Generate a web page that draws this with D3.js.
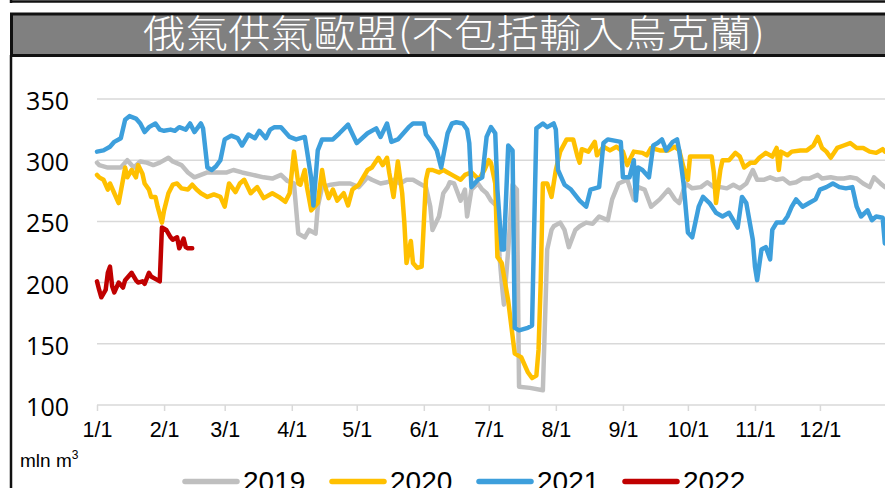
<!DOCTYPE html>
<html>
<head>
<meta charset="utf-8">
<script src="https://cdn.jsdelivr.net/npm/d3@7"></script>
<style>
  html, body { margin: 0; padding: 0; background: #fff; overflow: hidden; }
  svg { display: block; }
</style>
</head>
<body>
<div id="chart"></div>
<script>
const w = 885;
const h = 488;

const title = "俄氣供氣歐盟(不包括輸入烏克蘭)";
const unitLabel = "mln m";

// x axis: day of year at the start of each month
const monthStarts = [0, 31, 59, 90, 120, 151, 181, 212, 243, 273, 304, 334];
const monthLabels = ["1/1", "2/1", "3/1", "4/1", "5/1", "6/1", "7/1", "8/1", "9/1", "10/1", "11/1", "12/1"];
const yTicks = [100, 150, 200, 250, 300, 350];

// [day of year, mln m3]
const s2019 = [[0,298],[1,296],[5,294],[7,294],[11,294],[14,300],[17,294],[20,299],[23,298],[26,296],[29,298],[33,302],[35,299],[39,296],[42,290],[45,286],[48,288],[51,290],[55,290],[60,290],[63,292],[67,290],[72,288],[77,286],[81,285],[85,288],[88,283],[91,281],[93,240],[96,237],[98,243],[101,240],[102,262],[104,278],[108,280],[112,281],[117,281],[121,278],[125,286],[127,284],[131,281],[134,282],[137,284],[140,281],[143,284],[146,284],[149,281],[152,278],[154,262],[155,243],[158,254],[160,273],[162,278],[163,282],[165,281],[168,267],[170,276],[171,254],[173,276],[176,281],[178,276],[180,273],[182,267],[185,262],[186,221],[187,200],[188,182],[190,227],[192,280],[194,276],[195,115],[200,114],[206,112],[208,227],[210,243],[211,246],[214,249],[216,243],[218,229],[221,243],[223,246],[226,249],[229,248],[232,254],[236,251],[238,268],[241,281],[245,284],[248,268],[250,278],[253,276],[256,262],[260,268],[264,276],[267,268],[269,265],[272,281],[275,277],[279,278],[282,282],[285,278],[288,278],[291,277],[294,280],[297,277],[300,281],[303,292],[305,284],[308,284],[311,286],[314,284],[317,285],[320,281],[323,282],[326,285],[329,285],[333,288],[335,285],[339,286],[342,285],[345,285],[348,286],[351,285],[354,281],[357,278],[359,286],[362,281],[364,278]];

const s2020 = [[0,288],[1,286],[3,284],[5,276],[6,281],[8,273],[10,265],[12,284],[13,294],[14,286],[16,292],[18,286],[19,296],[21,289],[22,281],[24,276],[25,270],[27,270],[28,262],[30,249],[31,259],[33,273],[35,280],[37,281],[39,277],[42,276],[44,280],[46,276],[48,273],[51,270],[54,272],[57,270],[59,262],[61,281],[64,274],[66,281],[68,284],[71,273],[74,278],[77,269],[81,273],[84,270],[87,266],[89,273],[91,307],[93,281],[94,280],[96,292],[97,278],[99,259],[102,265],[104,292],[105,281],[107,269],[109,276],[111,267],[114,273],[116,263],[118,276],[121,280],[125,292],[127,294],[130,302],[132,296],[134,302],[135,290],[137,270],[139,299],[141,273],[142,249],[143,216],[145,234],[146,216],[148,212],[150,213],[152,284],[153,292],[155,292],[158,290],[160,292],[162,290],[164,288],[168,284],[170,288],[173,290],[176,285],[177,286],[179,292],[181,300],[182,298],[184,281],[185,221],[187,216],[190,185],[193,142],[196,139],[199,127],[201,122],[203,124],[204,145],[205,200],[206,281],[208,281],[210,270],[212,292],[214,307],[217,317],[220,317],[222,303],[223,298],[224,309],[227,307],[230,315],[231,304],[234,311],[237,308],[240,311],[243,307],[245,296],[248,307],[252,306],[254,304],[256,310],[260,308],[264,308],[267,311],[269,308],[271,294],[273,284],[274,303],[277,303],[281,303],[284,303],[285,290],[286,265],[288,292],[289,300],[292,300],[295,306],[297,303],[299,294],[302,298],[304,298],[306,302],[309,306],[312,303],[314,310],[315,292],[316,307],[319,304],[321,307],[325,308],[328,308],[331,312],[333,319],[335,310],[337,307],[339,302],[342,310],[345,312],[348,314],[351,310],[354,310],[357,307],[360,306],[363,309],[364,307]];

const s2021 = [[0,307],[3,308],[6,311],[8,315],[11,318],[13,333],[15,336],[18,334],[20,330],[22,323],[24,327],[27,330],[29,325],[31,324],[34,325],[36,324],[38,327],[41,325],[43,330],[45,323],[48,330],[49,326],[51,294],[53,292],[55,295],[57,300],[59,317],[62,320],[65,318],[67,312],[70,321],[73,318],[75,324],[78,318],[80,325],[82,327],[85,327],[89,319],[92,317],[96,319],[97,308],[99,285],[100,263],[102,308],[104,317],[109,317],[112,322],[116,329],[120,314],[125,322],[129,326],[131,319],[134,330],[136,315],[139,317],[144,327],[146,330],[151,330],[152,321],[155,314],[157,308],[159,294],[162,322],[164,330],[166,331],[169,330],[171,325],[172,314],[173,278],[176,284],[178,286],[180,319],[182,327],[184,322],[185,276],[187,227],[188,227],[190,312],[192,308],[193,163],[195,161],[199,163],[201,165],[203,326],[206,330],[208,327],[211,330],[212,325],[213,292],[216,280],[219,276],[223,267],[226,262],[228,276],[232,278],[234,314],[236,317],[242,315],[243,286],[246,286],[248,300],[249,267],[250,294],[252,292],[255,286],[257,312],[259,314],[261,317],[263,308],[266,315],[268,317],[269,308],[271,281],[273,241],[275,237],[278,262],[280,270],[283,265],[286,257],[289,254],[292,257],[296,245],[298,270],[300,265],[303,235],[304,213],[305,202],[307,227],[309,229],[311,219],[312,243],[314,249],[317,249],[319,254],[321,262],[323,268],[326,262],[329,265],[332,268],[334,276],[337,278],[340,281],[343,278],[346,277],[349,278],[351,262],[353,254],[356,259],[358,251],[360,254],[363,253],[364,232]];

const s2022 = [[0,201],[1,194],[2,188],[4,194],[5,208],[6,213],[7,197],[8,192],[10,200],[12,196],[13,202],[14,204],[16,208],[18,202],[19,200],[21,201],[22,199],[24,208],[25,205],[28,202],[29,201],[30,245],[32,243],[34,237],[35,235],[37,237],[38,228],[40,236],[41,229],[42,228],[44,228]];

const seriesNames = ["2019", "2020", "2021", "2022"];
const seriesData = [s2019, s2020, s2021, s2022];
const seriesColors = ["#bfbfbf", "#ffc000", "#3d9fdc", "#c00000"];

const svg = d3.select("#chart").append("svg")
    .attr("width", w)
    .attr("height", h);

// frame pieces
svg.append("line")
    .attr("x1", 10).attr("x2", w).attr("y1", 1.5).attr("y2", 1.5)
    .attr("stroke", "#111").attr("stroke-width", 2.5);
svg.append("line")
    .attr("x1", 11).attr("x2", 11).attr("y1", 0).attr("y2", 3)
    .attr("stroke", "#111").attr("stroke-width", 2.5);

svg.append("rect")
    .attr("x", 11.5).attr("y", 14)
    .attr("width", w + 10).attr("height", 41.5)
    .attr("fill", "#808080")
    .attr("stroke", "#111")
    .attr("stroke-width", 3);

svg.append("line")
    .attr("x1", 11).attr("x2", 11).attr("y1", 55).attr("y2", h)
    .attr("stroke", "#111").attr("stroke-width", 2.5);

svg.append("text")
    .attr("x", 143).attr("y", 47)
    .attr("textLength", 622)
    .attr("lengthAdjust", "spacingAndGlyphs")
    .style("font-family", "'Noto Sans CJK TC', sans-serif")
    .style("font-size", "38px")
    .style("font-weight", 300)
    .style("fill", "#fff")
    .text(title);

const xScale = d3.scaleLinear()
    .domain([0, 365])
    .range([97, 887]);

const yScale = d3.scaleLinear()
    .domain([100, 350])
    .range([405, 99]);

// gridlines
svg.append("g")
    .selectAll("line")
    .data(yTicks)
    .enter()
    .append("line")
    .attr("x1", 97).attr("x2", w)
    .attr("y1", d => yScale(d)).attr("y2", d => yScale(d))
    .attr("stroke", "#d9d9d9")
    .attr("stroke-width", 1.5);

// y labels
svg.append("g")
    .selectAll("text")
    .data(yTicks)
    .enter()
    .append("text")
    .attr("x", 69)
    .attr("y", d => yScale(d) + 11)
    .attr("text-anchor", "end")
    .style("font-family", "'Open Sans', sans-serif")
    .style("font-size", "25px")
    .style("fill", "#000")
    .text(d => d);

// x axis with month ticks
const xAxis = d3.axisBottom(xScale)
    .tickValues(monthStarts)
    .tickFormat((d, i) => monthLabels[i])
    .tickSizeInner(6)
    .tickSizeOuter(0)
    .tickPadding(11);

const gx = svg.append("g")
    .attr("transform", `translate(0, ${yScale(100)})`)
    .call(xAxis);
gx.select(".domain").remove();
gx.selectAll(".tick line")
    .attr("stroke", "#d9d9d9")
    .attr("stroke-width", 1.5);
gx.selectAll(".tick text")
    .style("font-family", "'Liberation Sans', Arial, sans-serif")
    .style("font-size", "21.5px")
    .style("fill", "#000");

svg.append("text")
    .attr("x", 20).attr("y", 467)
    .style("font-family", "'Liberation Sans', Arial, sans-serif")
    .style("font-size", "19px")
    .style("fill", "#000")
    .text(unitLabel)
    .append("tspan")
    .attr("dy", -8)
    .style("font-size", "12px")
    .text("3");

// series
const line = d3.line()
    .x(d => xScale(d[0]))
    .y(d => yScale(d[1]));

svg.append("g")
    .selectAll("path")
    .data(seriesData)
    .enter()
    .append("path")
    .attr("d", line)
    .attr("fill", "none")
    .attr("stroke", (d, i) => seriesColors[i])
    .attr("stroke-width", 4.5)
    .attr("stroke-linejoin", "round")
    .attr("stroke-linecap", "round");

// legend
const legendX = [183, 330, 477, 623];
const legend = svg.append("g")
    .selectAll("g")
    .data(seriesNames)
    .enter()
    .append("g")
    .attr("transform", (d, i) => `translate(${legendX[i]}, 481.5)`);

legend.append("line")
    .attr("x1", 2).attr("x2", 54)
    .attr("stroke", (d, i) => seriesColors[i])
    .attr("stroke-width", 5.5)
    .attr("stroke-linecap", "round");

legend.append("text")
    .attr("x", 60)
    .attr("y", 9.5)
    .style("font-family", "'Liberation Sans', Arial, sans-serif")
    .style("font-size", "28px")
    .style("fill", "#000")
    .text(d => d);
</script>
</body>
</html>
